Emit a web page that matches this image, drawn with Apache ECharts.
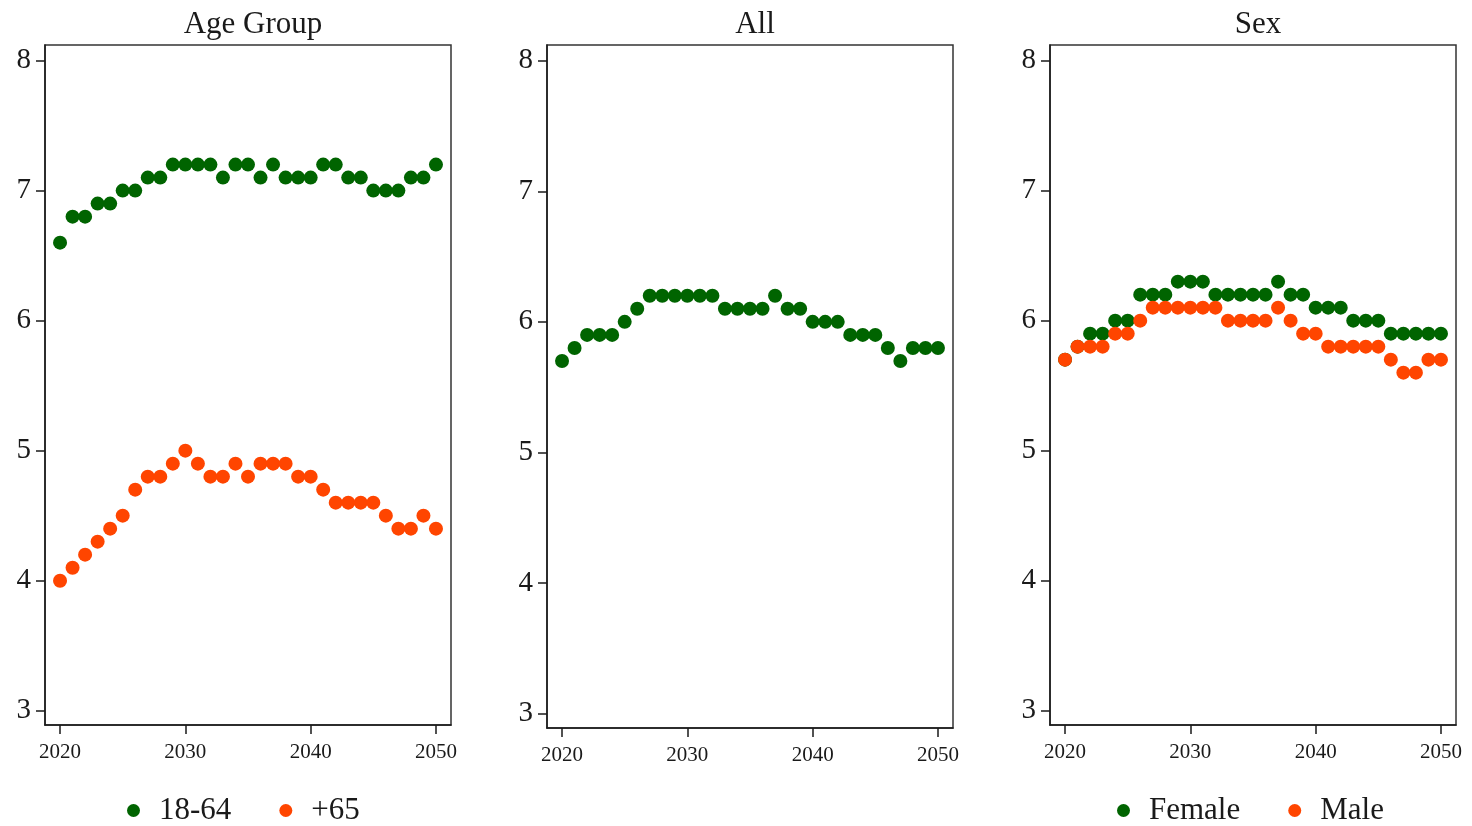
<!DOCTYPE html>
<html>
<head>
<meta charset="utf-8">
<script src="https://cdn.jsdelivr.net/npm/echarts@6/dist/echarts.min.js"></script>
<style>
  html, body { margin: 0; padding: 0; background: #fff; }
  #chart { width: 1472px; height: 826px; }
</style>
</head>
<body>
<div id="chart"></div>
<script>
// Years shown on every panel
const years = [];
for (let y = 2020; y <= 2050; y++) years.push(y);

// Age Group panel
const age1864 = [6.6, 6.8, 6.8, 6.9, 6.9, 7.0, 7.0, 7.1, 7.1, 7.2, 7.2, 7.2, 7.2, 7.1, 7.2, 7.2,
                 7.1, 7.2, 7.1, 7.1, 7.1, 7.2, 7.2, 7.1, 7.1, 7.0, 7.0, 7.0, 7.1, 7.1, 7.2];
const age65 = [4.0, 4.1, 4.2, 4.3, 4.4, 4.5, 4.7, 4.8, 4.8, 4.9, 5.0, 4.9, 4.8, 4.8, 4.9, 4.8,
               4.9, 4.9, 4.9, 4.8, 4.8, 4.7, 4.6, 4.6, 4.6, 4.6, 4.5, 4.4, 4.4, 4.5, 4.4];

// All panel
const allValues = [5.7, 5.8, 5.9, 5.9, 5.9, 6.0, 6.1, 6.2, 6.2, 6.2, 6.2, 6.2, 6.2, 6.1, 6.1, 6.1,
                   6.1, 6.2, 6.1, 6.1, 6.0, 6.0, 6.0, 5.9, 5.9, 5.9, 5.8, 5.7, 5.8, 5.8, 5.8];

// Sex panel
const female = [5.7, 5.8, 5.9, 5.9, 6.0, 6.0, 6.2, 6.2, 6.2, 6.3, 6.3, 6.3, 6.2, 6.2, 6.2, 6.2,
                6.2, 6.3, 6.2, 6.2, 6.1, 6.1, 6.1, 6.0, 6.0, 6.0, 5.9, 5.9, 5.9, 5.9, 5.9];
const male = [5.7, 5.8, 5.8, 5.8, 5.9, 5.9, 6.0, 6.1, 6.1, 6.1, 6.1, 6.1, 6.1, 6.0, 6.0, 6.0,
              6.0, 6.1, 6.0, 5.9, 5.9, 5.8, 5.8, 5.8, 5.8, 5.8, 5.7, 5.6, 5.6, 5.7, 5.7];

// Axis ticks
const yTicks = [3, 4, 5, 6, 7, 8];
const xTicks = [2020, 2030, 2040, 2050];
const panelTitles = ['Age Group', 'All', 'Sex'];

const GREEN = '#006400';
const ORANGE = '#FF4500';
const FONT = '"Liberation Serif", "DejaVu Serif", serif';
const INK = '#1a1a1a';

const pairs = arr => years.map((y, i) => [y, arr[i]]);

const grids = [
  { left: 45, top: 45, width: 406, height: 680 },
  { left: 547, top: 45, width: 406, height: 683 },
  { left: 1050, top: 45, width: 406, height: 680 }
].map(g => Object.assign(g, { show: true, borderColor: '#333', borderWidth: 1.5, backgroundColor: '#fff' }));

const xAxes = grids.map((g, i) => ({
  type: 'value', gridIndex: i, min: 2018.8, max: 2051.2,
  axisLine: { show: true, onZero: false, lineStyle: { color: INK, width: 1.5 } },
  axisTick: { show: true, length: 9, customValues: xTicks, lineStyle: { color: INK, width: 1.5 } },
  axisLabel: { customValues: xTicks, margin: 17, fontFamily: FONT, fontSize: 21, color: INK,
               formatter: v => String(v) },
  splitLine: { show: false }
}));

const yAxes = grids.map((g, i) => ({
  type: 'value', gridIndex: i, min: 2.89, max: 8.12,
  axisLine: { show: true, onZero: false, lineStyle: { color: INK, width: 1.5 } },
  axisTick: { show: true, length: 9, customValues: yTicks, lineStyle: { color: INK, width: 1.5 } },
  axisLabel: { customValues: yTicks, margin: 14, fontFamily: FONT, fontSize: 29, color: INK,
               formatter: v => String(v) },
  splitLine: { show: false }
}));

const centers = grids.map(g => g.left + g.width / 2);

const scatter = (name, data, idx, color) => ({
  name, type: 'scatter', xAxisIndex: idx, yAxisIndex: idx,
  data: pairs(data), symbol: 'circle', symbolSize: 14,
  itemStyle: { color, opacity: 1 }, emphasis: { disabled: true }
});

const legendStyle = {
  orient: 'horizontal', top: 790, itemWidth: 13, itemHeight: 13, itemGap: 48,
  icon: 'circle',
  textStyle: { fontFamily: FONT, fontSize: 31, color: INK, padding: [0, 0, 0, 14] }
};

const option = {
  animation: false,
  backgroundColor: '#fff',
  title: panelTitles.map((t, i) => ({
    text: t, left: centers[i], top: 4, textAlign: 'center',
    textStyle: { fontFamily: FONT, fontSize: 31, fontWeight: 'normal', color: INK }
  })),
  grid: grids,
  xAxis: xAxes,
  yAxis: yAxes,
  legend: [
    Object.assign({ data: ['18-64', '+65'], left: 122 }, legendStyle),
    Object.assign({ data: ['Female', 'Male'], left: 1112 }, legendStyle)
  ],
  series: [
    scatter('18-64', age1864, 0, GREEN),
    scatter('+65', age65, 0, ORANGE),
    scatter('All', allValues, 1, GREEN),
    scatter('Female', female, 2, GREEN),
    scatter('Male', male, 2, ORANGE)
  ]
};

const chart = echarts.init(document.getElementById('chart'), null, { renderer: 'canvas' });
chart.setOption(option);
</script>
</body>
</html>
